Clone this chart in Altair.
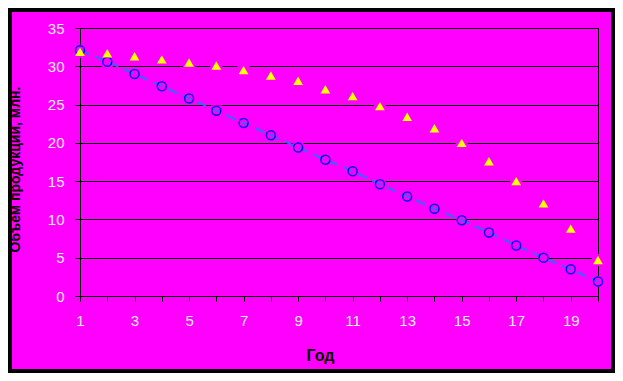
import altair as alt
import pandas as pd

years = list(range(1, 21))
series_circles = [32.1, 30.6, 29.0, 27.4, 25.8, 24.2, 22.6, 21.0, 19.4, 17.8,
                  16.3, 14.6, 13.0, 11.4, 9.9, 8.3, 6.6, 5.0, 3.5, 1.9]
series_triangles = [31.9, 31.7, 31.3, 30.9, 30.5, 30.1, 29.5, 28.8, 28.1, 27.0,
                    26.1, 24.8, 23.4, 21.9, 20.0, 17.6, 15.0, 12.1, 8.8, 4.7]
y_ticks = [0, 5, 10, 15, 20, 25, 30, 35]
x_title = "Год"
y_title = "Объем продукции, млн."

df = pd.DataFrame({"year": years, "a": series_circles, "b": series_triangles})

MAG = "#FF00FF"
W, H = 518, 268
PL, PT, PR, PB = 72, 20, 17, 77

xs = alt.Scale(domain=[1, 20], nice=False, zero=False)
ys = alt.Scale(domain=[0, 35], nice=False)

x_axis = alt.Axis(
    values=years, labelExpr="datum.value % 2 == 1 ? datum.label : ''",
    tickSize=5, tickColor="black", domainColor="black", grid=False,
    labelColor="#eeeeee", labelFontSize=15, labelFont="Liberation Sans",
    labelPadding=12, labelFlush=False, labelOverlap=False,
    title=x_title, titleFont="Liberation Sans", titleFontSize=16, titleFontWeight="bold",
    titleColor="black", titleX=240, titleY=59, titleBaseline="middle", titleAnchor="middle",
    titleAlign="center",
)
y_axis = alt.Axis(
    values=y_ticks, tickCount=8, tickSize=5, tickColor="black", domainColor="black",
    grid=True, gridColor="black", gridWidth=1,
    labelColor="#eeeeee", labelFontSize=15, labelFont="Liberation Sans",
    labelPadding=11, labelFlush=False, labelOverlap=False,
    title=y_title, titleFont="Liberation Sans", titleFontSize=14, titleFontWeight="bold",
    titleColor="black", titleX=-65, titleY=141, titleAngle=-90,
    titleAlign="center", titleBaseline="middle",
)

base = alt.Chart(df)
X = alt.X("year:Q", scale=xs, axis=x_axis)
YA = alt.Y("a:Q", scale=ys, axis=y_axis)
YB = alt.Y("b:Q", scale=ys, axis=y_axis)

halo_a = base.mark_point(shape="square", filled=True, color=MAG, size=120, opacity=1).encode(x=X, y=YA)
halo_b = base.mark_point(shape="square", filled=True, color=MAG, size=150, opacity=1).encode(x=X, y=YB)
line = base.mark_line(color="#3366FF", strokeWidth=2, strokeDash=[10, 6]).encode(x=X, y=YA)
circles = base.mark_point(shape="circle", filled=False, color="#0000FF", size=80,
                          strokeWidth=1.5, opacity=1).encode(x=X, y=YA)
tris = base.mark_point(shape="triangle-up", filled=True, color="#FFFF00", size=95,
                       opacity=1).encode(x=X, y=YB)

frame = alt.Chart(pd.DataFrame({"k": [0]})).mark_rect(
    fill=None, stroke="black", strokeWidth=4).encode(
    x=alt.value(-PL + 2), x2=alt.value(W + PR - 2),
    y=alt.value(-PT + 2), y2=alt.value(H + PB - 2))

chart = alt.layer(halo_a, halo_b, line, circles, tris, frame).properties(
    width=W, height=H,
    autosize=alt.AutoSizeParams(type="none"),
    padding={"left": PL, "top": PT, "right": PR, "bottom": PB},
    background=MAG,
).configure_view(stroke="black", strokeWidth=1, fill=MAG)

chart.save("out.html", embed_options={"renderer": "svg", "actions": False})
